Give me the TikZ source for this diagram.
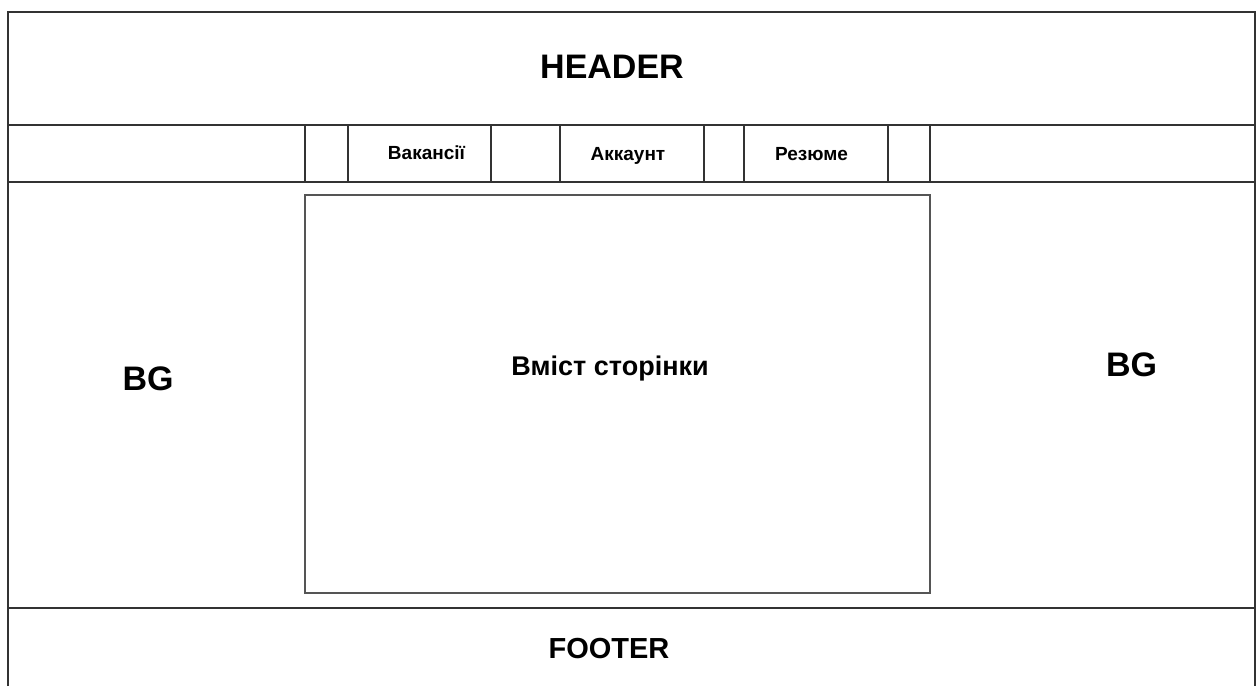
\documentclass[tikz,border=0pt]{standalone}
\usepackage{fontspec}
\setmainfont{Liberation Sans}
\definecolor{linec}{HTML}{333333}
\definecolor{boxc}{HTML}{555555}
\begin{document}
\begin{tikzpicture}[x=1pt,y=-1pt,
  frame/.style={draw=linec,line width=1.5pt,rectangle,inner sep=0pt,outer sep=0pt,anchor=north west},
  cell/.style={frame},
  pagebox/.style={draw=boxc,line width=1.8pt,rectangle,inner sep=0pt,outer sep=0pt,anchor=north west},
  lbl/.style={anchor=base,inner sep=0pt,font=\bfseries\fontsize{#1}{#1}\selectfont},
]
\useasboundingbox (0,0) rectangle (1259,686);
% header and navigation bar
\node[frame,minimum width=1247pt,minimum height=113pt] (header) at (8,12) {};
\node[frame,minimum width=1247pt,minimum height=57pt] (nav) at (8,125) {};
\node[cell,minimum width=43pt,minimum height=57pt]  (c1) at (305,125) {};
\node[cell,minimum width=143pt,minimum height=57pt] (c2) at (348,125) {};
\node[cell,minimum width=69pt,minimum height=57pt]  (c3) at (491,125) {};
\node[cell,minimum width=144pt,minimum height=57pt] (c4) at (560,125) {};
\node[cell,minimum width=40pt,minimum height=57pt]  (c5) at (704,125) {};
\node[cell,minimum width=144pt,minimum height=57pt] (c6) at (744,125) {};
\node[cell,minimum width=42pt,minimum height=57pt]  (c7) at (888,125) {};
% body area with page content
\node[frame,minimum width=1247pt,minimum height=426pt] (body) at (8,182) {};
\node[pagebox,minimum width=625pt,minimum height=398pt] (content) at (305,195) {};
% footer, open at the bottom
\coordinate (fl) at (8,686);
\coordinate (fr) at (1255,686);
\draw[linec,line width=1.5pt] (fl) -- (body.south west) -- (body.south east) -- (fr);
% labels
\node[lbl=34] (th) at (612,78.3) {HEADER};
\node[lbl=19] (t1) at (426.5,159.5) {Вакансії};
\node[lbl=19] (t2) at (628,160) {Аккаунт};
\node[lbl=19] (t3) at (811.5,160) {Резюме};
\node[lbl=34] (bgl) at (148,390) {BG};
\node[lbl=34] (bgr) at (1131.5,376) {BG};
\node[lbl=27] (tc) at (610,375) {Вміст сторінки};
\node[lbl=29] (tf) at (609,658.3) {FOOTER};
\end{tikzpicture}
\end{document}
